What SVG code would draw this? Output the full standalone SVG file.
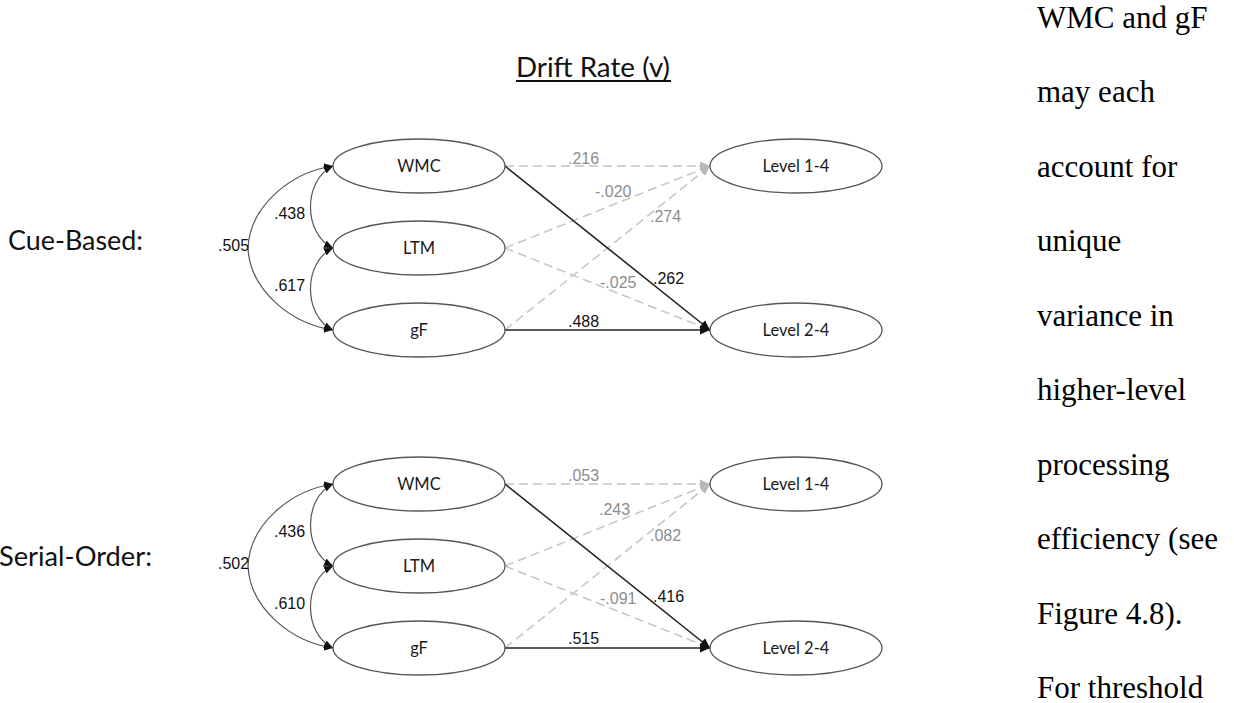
<svg xmlns="http://www.w3.org/2000/svg" width="1234" height="703" viewBox="0 0 1234 703">
<style>
.bg{fill:#ffffff}
.node ellipse{fill:#ffffff;stroke:#555555;stroke-width:1.3}
.lbl{font-family:Lato,"Liberation Sans",sans-serif;font-size:16.5px;fill:#1a1a1a;text-anchor:middle}
.head{font-family:Lato,"Liberation Sans",sans-serif;fill:#111111}
.num{font-family:"Liberation Sans",Arial,sans-serif;font-size:16px}
.g{fill:#8c8c8c}
.k{fill:#111111}
.dash{fill:none;stroke:#c4c4c4;stroke-width:1.5;stroke-dasharray:9 5;marker-end:url(#ag)}
.solid{fill:none;stroke:#222222;stroke-width:1.6;marker-end:url(#ak)}
.cor{fill:none;stroke:#555555;stroke-width:1.2;marker-start:url(#ak2);marker-end:url(#ak2)}
.body{font-family:"Liberation Serif","Times New Roman",serif;font-size:31px;fill:#000000}
</style>
<defs>
<marker id="ag" viewBox="0 0 10 10" refX="10" refY="5" markerWidth="10" markerHeight="10" markerUnits="userSpaceOnUse" orient="auto">
<path d="M0,0.5 L10,5 L0,9.5 Z" fill="#b8b8b8"/>
</marker>
<marker id="ak" viewBox="0 0 10 10" refX="10" refY="5" markerWidth="10" markerHeight="10" markerUnits="userSpaceOnUse" orient="auto">
<path d="M0,0.5 L10,5 L0,9.5 Z" fill="#111111"/>
</marker>
<marker id="ak2" viewBox="0 0 10 10" refX="10" refY="5" markerWidth="9" markerHeight="9" markerUnits="userSpaceOnUse" orient="auto-start-reverse">
<path d="M0,0.5 L10,5 L0,9.5 Z" fill="#111111"/>
</marker>
</defs>
<rect class="bg" x="0" y="0" width="1234" height="703"/>

<g id="title">
<text class="head" x="516" y="77" font-size="27" textLength="154" lengthAdjust="spacingAndGlyphs">Drift Rate (v)</text>
<line x1="516" y1="81" x2="671" y2="81" stroke="#111111" stroke-width="1.8"/>
</g>
<g id="label-cue">
<text class="head" x="8" y="250" font-size="27" textLength="135" lengthAdjust="spacingAndGlyphs">Cue-Based:</text>
</g>
<g id="label-serial">
<text class="head" x="-1" y="566" font-size="27" textLength="153" lengthAdjust="spacingAndGlyphs">Serial-Order:</text>
</g>

<g id="connectors">
<path class="dash" d="M505,166 L710,166"/>
<path class="dash" d="M505,248 L710,166"/>
<path class="dash" d="M505,330 L710,166"/>
<path class="dash" d="M505,248 L710,330"/>
<path class="solid" d="M505,166 L710,330"/>
<path class="solid" d="M505,330 L710,330"/>
<path class="cor" d="M333,166 C303,180 303,234 333,248"/>
<path class="cor" d="M333,248 C303,262 303,316 333,330"/>
<path class="cor" d="M333,166 C292,172 250,205 248,248 C250,291 292,324 333,330"/>
<path class="dash" d="M505,484 L710,484"/>
<path class="dash" d="M505,566 L710,484"/>
<path class="dash" d="M505,648 L710,484"/>
<path class="dash" d="M505,566 L710,648"/>
<path class="solid" d="M505,484 L710,648"/>
<path class="solid" d="M505,648 L710,648"/>
<path class="cor" d="M333,484 C303,498 303,552 333,566"/>
<path class="cor" d="M333,566 C303,580 303,634 333,648"/>
<path class="cor" d="M333,484 C292,490 250,523 248,566 C250,609 292,642 333,648"/>
</g>

<g id="edge-labels">
<text class="num g" x="568" y="164">.216</text>
<text class="num g" x="595" y="197">-.020</text>
<text class="num g" x="650" y="222">.274</text>
<text class="num g" x="600" y="288">-.025</text>
<text class="num k" x="653" y="284">.262</text>
<text class="num k" x="568" y="327">.488</text>
<text class="num k" x="274" y="219">.438</text>
<text class="num k" x="218" y="251">.505</text>
<text class="num k" x="274" y="291">.617</text>
<text class="num g" x="568" y="481">.053</text>
<text class="num g" x="599" y="515">.243</text>
<text class="num g" x="650" y="541">.082</text>
<text class="num g" x="600" y="604">-.091</text>
<text class="num k" x="653" y="602">.416</text>
<text class="num k" x="568" y="644">.515</text>
<text class="num k" x="274" y="537">.436</text>
<text class="num k" x="218" y="569">.502</text>
<text class="num k" x="274" y="609">.610</text>
</g>

<g id="cue-wmc" class="node"><ellipse cx="419" cy="166" rx="86" ry="27"/><text class="lbl" x="419" y="172">WMC</text></g>
<g id="cue-ltm" class="node"><ellipse cx="419" cy="248" rx="86" ry="27"/><text class="lbl" x="419" y="254">LTM</text></g>
<g id="cue-gf" class="node"><ellipse cx="419" cy="330" rx="86" ry="27"/><text class="lbl" x="419" y="336">gF</text></g>
<g id="cue-l14" class="node"><ellipse cx="796" cy="166" rx="86" ry="27"/><text class="lbl" x="796" y="172">Level 1-4</text></g>
<g id="cue-l24" class="node"><ellipse cx="796" cy="330" rx="86" ry="27"/><text class="lbl" x="796" y="336">Level 2-4</text></g>

<g id="ser-wmc" class="node"><ellipse cx="419" cy="484" rx="86" ry="27"/><text class="lbl" x="419" y="490">WMC</text></g>
<g id="ser-ltm" class="node"><ellipse cx="419" cy="566" rx="86" ry="27"/><text class="lbl" x="419" y="572">LTM</text></g>
<g id="ser-gf" class="node"><ellipse cx="419" cy="648" rx="86" ry="27"/><text class="lbl" x="419" y="654">gF</text></g>
<g id="ser-l14" class="node"><ellipse cx="796" cy="484" rx="86" ry="27"/><text class="lbl" x="796" y="490">Level 1-4</text></g>
<g id="ser-l24" class="node"><ellipse cx="796" cy="648" rx="86" ry="27"/><text class="lbl" x="796" y="654">Level 2-4</text></g>

<g id="body-text">
<text class="body" x="1037" y="28">WMC and gF</text>
<text class="body" x="1037" y="102">may each</text>
<text class="body" x="1037" y="177">account for</text>
<text class="body" x="1037" y="251">unique</text>
<text class="body" x="1037" y="326">variance in</text>
<text class="body" x="1037" y="400">higher-level</text>
<text class="body" x="1037" y="475">processing</text>
<text class="body" x="1037" y="549">efficiency (see</text>
<text class="body" x="1037" y="624">Figure 4.8).</text>
<text class="body" x="1037" y="698">For threshold</text>
</g>
</svg>
